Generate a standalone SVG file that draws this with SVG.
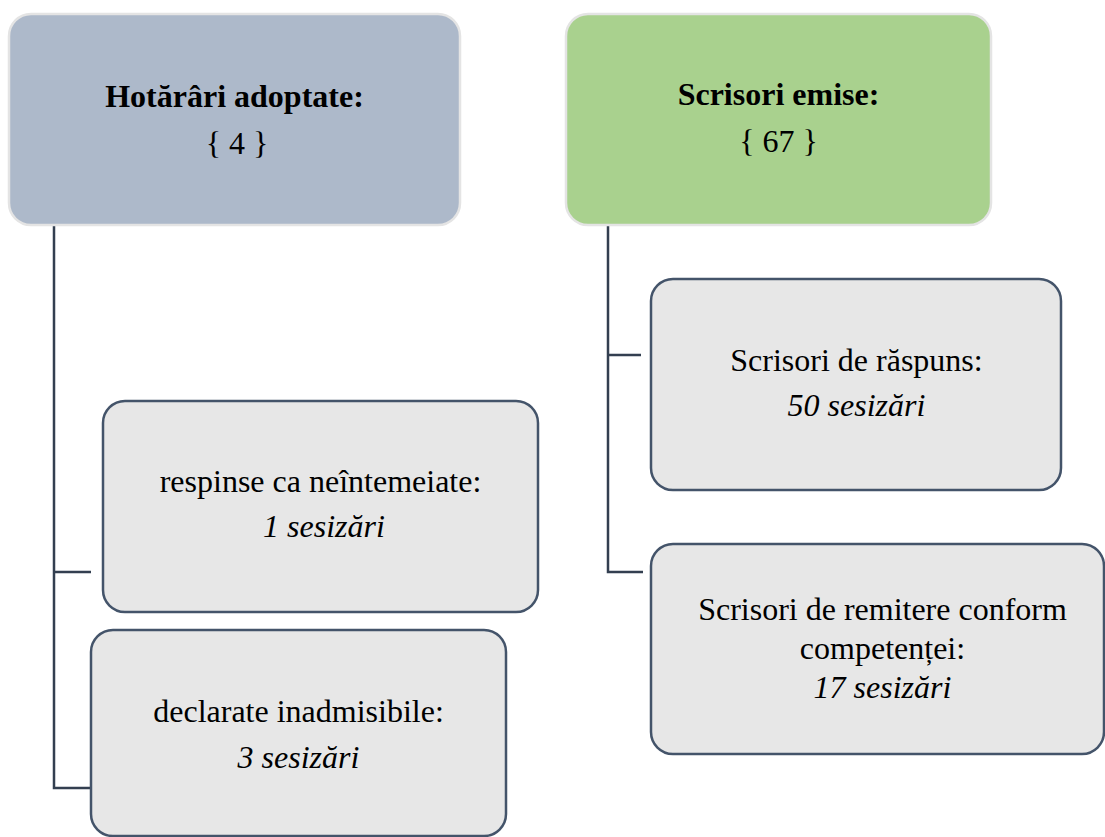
<svg xmlns="http://www.w3.org/2000/svg" width="1105" height="837" viewBox="0 0 1105 837">
<style>
.top{stroke:#E4E4E4;stroke-width:2.5}
.child{fill:#E7E7E7;stroke:#44546A;stroke-width:2.5}
.conn{fill:none;stroke:#333F50;stroke-width:2.5}
text{font-size:32px;fill:#000;text-anchor:middle}
.b{font-weight:bold}
.i{font-style:italic}
</style>
<rect width="1105" height="837" fill="#FFFFFF"/>
<g id="connectors">
<path class="conn" d="M54,226 V788 H91 M54,572 H91"/>
<path class="conn" d="M608,226 V572 H643 M608,355 H641"/>
</g>
<g font-family="Liberation Serif, Tinos, DejaVu Serif, serif">
<g id="hotarari">
<rect class="top" x="9" y="14" width="451" height="211" rx="22" fill="#ADB9CA"/>
<text class="b" x="234.5" y="107">Hotărâri adoptate:</text>
<text x="237" y="154">{ 4 }</text>
</g>
<g id="scrisori">
<rect class="top" x="566" y="14" width="425" height="211" rx="22" fill="#A9D18E"/>
<text class="b" x="778.5" y="105">Scrisori emise:</text>
<text x="778.5" y="152">{ 67 }</text>
</g>
<g id="respinse">
<rect class="child" x="103" y="401" width="435" height="211" rx="22"/>
<text x="320.5" y="492">respinse ca neîntemeiate:</text>
<text class="i" x="324" y="537">1 sesizări</text>
</g>
<g id="declarate">
<rect class="child" x="91" y="630" width="415" height="206" rx="22"/>
<text x="298.5" y="722">declarate inadmisibile:</text>
<text class="i" x="298.5" y="768">3 sesizări</text>
</g>
<g id="raspuns">
<rect class="child" x="651" y="279" width="410" height="211" rx="22"/>
<text x="856.5" y="371">Scrisori de răspuns:</text>
<text class="i" x="856.5" y="416">50 sesizări</text>
</g>
<g id="remitere">
<rect class="child" x="651" y="544" width="453" height="210" rx="22"/>
<text x="882.5" y="620">Scrisori de remitere conform</text>
<text x="882.5" y="659">competenței:</text>
<text class="i" x="882.5" y="698">17 sesizări</text>
</g>
</g>
</svg>
